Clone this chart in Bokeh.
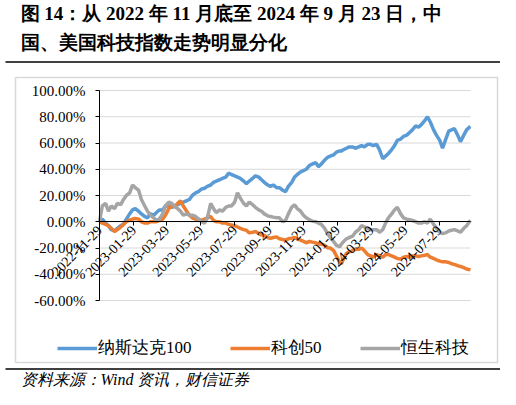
import math
from datetime import datetime

from bokeh.plotting import figure
from bokeh.models import (Range1d, FixedTicker, NumeralTickFormatter,
                          DatetimeTickFormatter, Label)
from bokeh.embed import file_html
from bokeh.resources import INLINE

# data (cumulative change, %)
dates = [
    "2022-11-29", "2022-12-04", "2022-12-10", "2022-12-15", "2022-12-20", "2022-12-26",
    "2022-12-31", "2023-01-06", "2023-01-11", "2023-01-16", "2023-01-22", "2023-01-27",
    "2023-02-01", "2023-02-07", "2023-02-12", "2023-02-18", "2023-02-23", "2023-02-28",
    "2023-03-06", "2023-03-11", "2023-03-16", "2023-03-22", "2023-03-27", "2023-04-02",
    "2023-04-07", "2023-04-12", "2023-04-18", "2023-04-23", "2023-04-28", "2023-05-04",
    "2023-05-09", "2023-05-14", "2023-05-20", "2023-05-25", "2023-05-31", "2023-06-05",
    "2023-06-10", "2023-06-16", "2023-06-21", "2023-06-26", "2023-07-02", "2023-07-07",
    "2023-07-13", "2023-07-18", "2023-07-23", "2023-07-29", "2023-08-03", "2023-08-08",
    "2023-08-14", "2023-08-19", "2023-08-24", "2023-08-30", "2023-09-04", "2023-09-10",
    "2023-09-15", "2023-09-20", "2023-09-26", "2023-10-01", "2023-10-06", "2023-10-12",
    "2023-10-17", "2023-10-23", "2023-10-28", "2023-11-02", "2023-11-08", "2023-11-13",
    "2023-11-18", "2023-11-24", "2023-11-29", "2023-12-04", "2023-12-10", "2023-12-15",
    "2023-12-21", "2023-12-26", "2023-12-31", "2024-01-06", "2024-01-11", "2024-01-16",
    "2024-01-22", "2024-01-27", "2024-02-02", "2024-02-05", "2024-02-09", "2024-02-14",
    "2024-02-19", "2024-02-25", "2024-03-01", "2024-03-07", "2024-03-12", "2024-03-17",
    "2024-03-23", "2024-03-28", "2024-04-02", "2024-04-08", "2024-04-13", "2024-04-19",
    "2024-04-24", "2024-04-29", "2024-05-05", "2024-05-10", "2024-05-15", "2024-05-21",
    "2024-05-26", "2024-06-01", "2024-06-06", "2024-06-11", "2024-06-17", "2024-06-22",
    "2024-06-27", "2024-07-03", "2024-07-08", "2024-07-13", "2024-07-19", "2024-07-24",
    "2024-07-30", "2024-08-04", "2024-08-09", "2024-08-15", "2024-08-20", "2024-08-25",
    "2024-08-31", "2024-09-05", "2024-09-11", "2024-09-16", "2024-09-21", "2024-09-23",
]

nasdaq100 = [
    0, 2, -1, -3, -6, -7, -5, -3, -2, 2, 6, 9,
    10, 8, 6, 4, 3, 6, 5, 7, 9, 9, 12, 12,
    11, 12, 13, 14, 15, 16, 17, 20, 22, 23, 25, 25.5,
    27, 28, 30, 31, 32, 33, 34, 37, 36, 35, 34, 33,
    31, 29, 31, 33, 35, 34, 32, 30, 28, 27, 28, 26,
    26, 24, 23, 27, 30, 34, 36, 38, 39, 40, 43, 44,
    45, 42, 44, 47, 49, 50, 51, 53, 54, 54, 55, 56,
    57, 57, 56, 57, 58, 57, 59, 59, 58, 59, 55, 48,
    50, 52, 55, 58, 62, 63, 65, 66, 68, 70, 73, 72,
    74, 77, 80, 76, 70, 66, 62, 56, 62, 69, 70, 71,
    66, 61, 66, 70, 72, 72.5,
]

star50 = [
    0, -1, -2, -3, -5, -7.5, -6, -4, -2, 0, 1.3, 2,
    2.5, 2, 0, -1, -1, 0, 0, 0, 1, 2, 5, 10,
    13, 11, 14, 16, 12, 8, 5, 3, 2, 2, 1, 2,
    3, 4, 1, 0, 0, -1, -1, -2, -2.5, -3, -4, -5,
    -6, -6.5, -8.5, -8, -7.5, -9, -10, -10.5, -12, -12.7, -12, -11.5,
    -13, -13.5, -14, -13, -12.5, -12, -13, -14, -15, -16, -15, -15.5,
    -16, -17, -17, -18, -19.8, -20, -22, -26, -31, -32, -28, -24,
    -23, -22, -21, -21, -20, -22, -25, -26, -27, -25, -26, -27,
    -25, -25, -26, -27, -28, -28.5, -27, -26.5, -27, -26, -26, -26.5,
    -26, -25.5, -25, -27, -28, -29, -30, -30.5, -30.5, -31, -32, -32.5,
    -33.5, -34, -35, -36, -36.5, -36.7,
]

hstech = [
    0, 12, 14, 8, 12, 10, 14, 13, 17, 20, 22, 28,
    26, 24, 17, 12, 8, 5, 3, 1, 2, 6, 12, 15,
    14, 12, 10, 8, 5, 6, 5, 5, 4, 2, 0, -1,
    3, 14, 10, 7, 9, 8, 11, 12, 12, 15, 22, 18,
    14, 12, 15, 13, 11, 9, 8, 6, 4.5, 4, 3.5, 3,
    3, 0, 1, 6, 11, 13, 10, 8, 5, 3, 1.5, 0.5,
    0, -1, -2, -5, -9, -12, -15, -18, -19, -17, -15, -13,
    -12, -11, -8, -6, -3, -4, -5, -6, -6, -6, -8, -6,
    -1, 3, 6, 9, 11, 6, 3, 2, 1.5, 1, 0, -1,
    -1, 0, -1, 2, -2, -5, -8, -9, -8.5, -7, -6.5, -6,
    -7, -8, -5, -3, 0, 1,
]

series_names = ["纳斯达克100", "科创50", "恒生科技"]
series_colors = ["#5B9BD5", "#ED7D31", "#A5A5A5"]

tick_dates = ["2022-11-29", "2023-01-29", "2023-03-29", "2023-05-29", "2023-07-29",
              "2023-09-29", "2023-11-29", "2024-01-29", "2024-03-29", "2024-05-29",
              "2024-07-29"]
y_ticks = [-60, -40, -20, 0, 20, 40, 60, 80, 100]

title_lines = ["图 14：从 2022 年 11 月底至 2024 年 9 月 23 日，中",
               "国、美国科技指数走势明显分化"]
source_text = "资料来源：Wind 资讯，财信证券"

SERIF = "Liberation Serif"
EPOCH = datetime(1970, 1, 1)

# canvas size and the plot area inside it (px); the frame covers the whole
# canvas so that axis labels, legend, title and notes are not clipped
W, H = 500, 389
PL, PR, PT, PB = 99, 470, 90, 300


def to_dt(s):
    return datetime.strptime(s, "%Y-%m-%d")


def to_ms(s):
    return (to_dt(s) - EPOCH).total_seconds() * 1000


x = [to_dt(d) for d in dates]
ms0, ms1 = to_ms(dates[0]), to_ms(dates[-1])
ymin, ymax = y_ticks[0] / 100, y_ticks[-1] / 100
ms_px = (ms1 - ms0) / (PR - PL)
y_px = (ymax - ymin) / (PB - PT)
x_start = ms0 - PL * ms_px
y_top = ymax + PT * y_px


def cx(px):
    # canvas px (from left) -> x data
    return x_start + px * ms_px


def cy(py):
    # canvas px (from top) -> y data
    return y_top - py * y_px


p = figure(width=W, height=H, x_axis_type="datetime",
           x_range=Range1d(x_start, x_start + W * ms_px),
           y_range=Range1d(y_top - H * y_px, y_top),
           output_backend="svg", toolbar_location=None, min_border=0)
p.outline_line_color = None
p.background_fill_color = "white"
p.border_fill_color = "white"
p.xgrid.visible = False
p.ygrid.visible = False

# chart box and the two rules of the report page
p.quad(left=cx(15), right=cx(497), top=cy(77), bottom=cy(362),
       fill_color=None, line_color="#D9D9D9", line_width=1.5)
p.segment(x0=[cx(5), cx(5)], x1=[cx(500), cx(500)],
          y0=[cy(61.5), cy(368.5)], y1=[cy(61.5), cy(368.5)],
          line_color="black", line_width=1.6)

# horizontal grid lines, only across the plot area
p.segment(x0=[ms0] * len(y_ticks), x1=[ms1] * len(y_ticks),
          y0=[t / 100 for t in y_ticks], y1=[t / 100 for t in y_ticks],
          line_color="#D9D9D9", line_width=1.2)

# lines
for vals, name, color in zip([nasdaq100, star50, hstech], series_names, series_colors):
    p.line(x, [v / 100 for v in vals], line_color=color, line_width=3.5,
           legend_label=name)

# y axis on the left edge of the plot area
p.yaxis.fixed_location = ms0
p.yaxis.bounds = (ymin, ymax)
p.yaxis.ticker = FixedTicker(ticks=[t / 100 for t in y_ticks])
p.yaxis.formatter = NumeralTickFormatter(format="0.00%")
p.yaxis.major_label_text_font = SERIF
p.yaxis.major_label_text_font_size = "15px"
p.yaxis.major_label_text_color = "black"
p.yaxis.axis_line_color = "black"
p.yaxis.major_tick_line_color = "black"
p.yaxis.major_tick_out = 4
p.yaxis.major_tick_in = 0
p.yaxis.minor_tick_line_color = None
p.yaxis.major_label_standoff = 10

# x axis sits on the zero line
p.xaxis.fixed_location = 0
p.xaxis.bounds = (ms0, ms1)
p.xaxis.ticker = FixedTicker(ticks=[to_ms(d) for d in tick_dates])
p.xaxis.formatter = DatetimeTickFormatter(days="%Y-%m-%d", months="%Y-%m-%d",
                                          years="%Y-%m-%d")
p.xaxis.major_label_orientation = math.pi / 4
p.xaxis.major_label_text_font = SERIF
p.xaxis.major_label_text_font_size = "14px"
p.xaxis.major_label_text_color = "black"
p.xaxis.axis_line_color = "black"
p.xaxis.major_tick_line_color = "black"
p.xaxis.major_tick_out = 4
p.xaxis.major_tick_in = 0
p.xaxis.minor_tick_line_color = None
p.xaxis.major_label_standoff = 2

# legend under the plot area
lg = p.legend[0]
lg.location = (57, 30)
lg.orientation = "horizontal"
lg.label_text_font = SERIF
lg.label_text_font_size = "17px"
lg.label_text_color = "black"
lg.glyph_width = 40
lg.glyph_height = 20
lg.label_height = 20
lg.label_standoff = 1
lg.spacing = 38
lg.padding = 0
lg.margin = 0
lg.border_line_color = None
lg.background_fill_alpha = 0

# title and source
for i, line in enumerate(title_lines):
    p.add_layout(Label(x=20, y=13 + i * 29, x_units="canvas", y_units="canvas",
                       text=line, text_baseline="middle", text_font=SERIF,
                       text_font_style="bold", text_font_size="19px",
                       text_color="black"))
p.add_layout(Label(x=20, y=379, x_units="canvas", y_units="canvas",
                   text=source_text, text_baseline="middle", text_font=SERIF,
                   text_font_style="italic", text_font_size="16px",
                   text_color="black"))

open("out.html", "w").write(file_html(p, INLINE))
